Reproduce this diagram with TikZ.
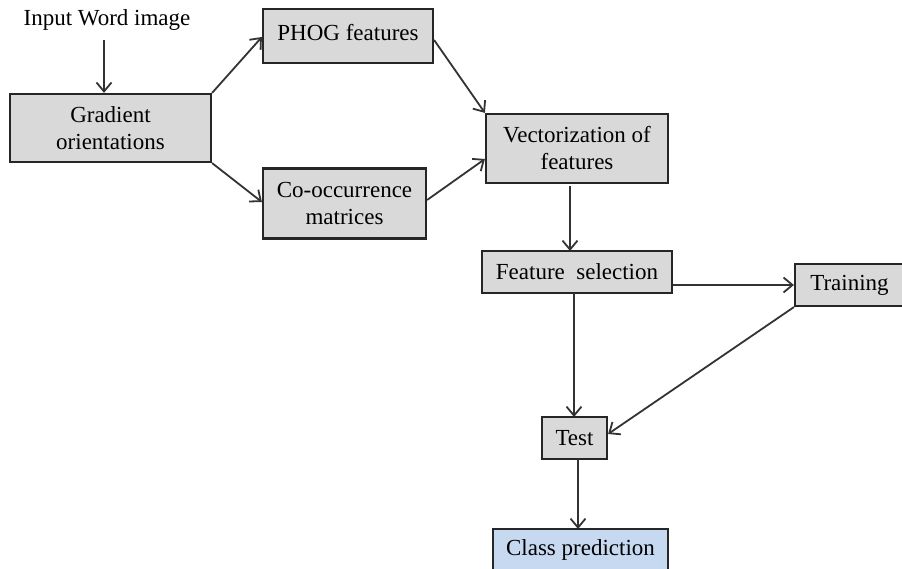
\documentclass[tikz,border=0pt]{standalone}
\usepackage{fontspec}
\setmainfont{Liberation Serif}
\usetikzlibrary{arrows.meta}
\definecolor{boxgray}{HTML}{D9D9D9}
\definecolor{boxblue}{HTML}{C6D9F1}
\tikzset{
  box/.style={draw=black!85, line width=2.2pt, fill=boxgray, inner sep=0pt, align=center,
     font=\fontsize{23}{27}\selectfont},
  conn/.style={draw=black!80, line width=1.8pt, -{Straight Barb[length=9pt,width=15pt,line width=1.8pt]}},
  plain/.style={inner sep=0pt, font=\fontsize{23}{27}\selectfont}
}
\begin{document}
\begin{tikzpicture}[x=1pt,y=-1pt]
\useasboundingbox (0,0) rectangle (902,569);
\clip (0,0) rectangle (902,569);
\node[plain] (input) at (107,20) {Input Word image};
\node[box, minimum width=201pt, minimum height=68pt] (grad) at (110.5,128) {Gradient\\orientations};
\node[box, minimum width=170pt, minimum height=54pt] (phog) at (348,36) {\raisebox{8pt}{PHOG features}};
\node[box, minimum width=163pt, minimum height=70pt] (cooc) at (344.5,203.5) {Co-occurrence\\matrices};
\node[box, minimum width=182pt, minimum height=69pt] (vect) at (577,148.5) {Vectorization of\\features};
\node[box, minimum width=190pt, minimum height=42pt] (fsel) at (577,272) {Feature\ \ selection};
\node[box, minimum width=109pt, minimum height=42pt] (train) at (849.5,285) {Training};
\node[box, minimum width=65pt, minimum height=42pt] (test) at (574.5,438) {Test};
\node[box, fill=boxblue, minimum width=175pt, minimum height=42pt] (cls) at (580.5,550) {Class prediction};

\coordinate (inA) at (104,40);
\draw[conn] (inA) -- (inA |- grad.north);
\draw[conn] (grad.north east) -- (phog.west |- 0,37);
\draw[conn] (grad.south east) -- (cooc.west |- 0,202);
\draw[conn] (phog.east |- 0,40) -- (vect.north west);
\draw[conn] (cooc.east |- 0,200) -- (vect.west |- 0,159);
\draw[conn] (570,186) -- (570,251);
\draw[conn] (fsel.east |- 0,285) -- (train.west |- 0,285);
\draw[conn] (574,293) -- (574,417);
\draw[conn] (train.south west) -- (test.east |- 0,434);
\draw[conn] (578,459) -- (578,529);
\end{tikzpicture}
\end{document}
